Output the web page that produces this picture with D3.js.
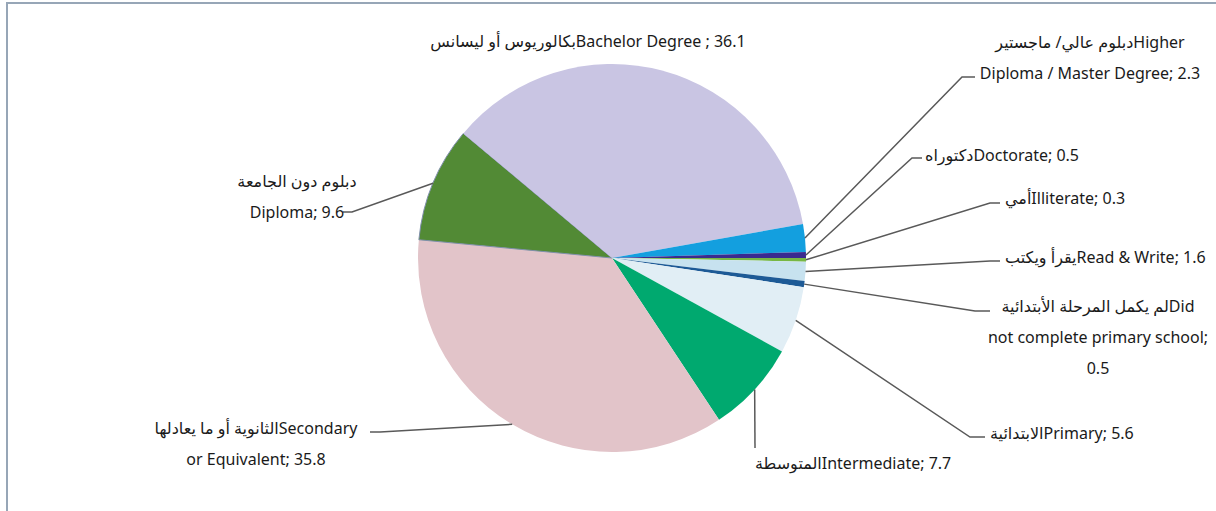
<!DOCTYPE html>
<html>
<head>
<meta charset="utf-8">
<script src="https://cdn.jsdelivr.net/npm/d3@7"></script>
<style>
  body { margin: 0; background: #fff; }
  svg { display: block; }
  text { font-family: "Noto Sans", "DejaVu Sans", sans-serif; font-size: 16px; fill: #1a1a1a; }
</style>
</head>
<body>
<div id="chart"></div>
<script>
// education levels, in pie order (clockwise from 3 o'clock)
const categories = [
  "Illiterate", "Read & Write", "Did not complete primary school", "Primary",
  "Intermediate", "Secondary or Equivalent", "Diploma", "Bachelor Degree",
  "Higher Diploma / Master Degree", "Doctorate"
];
const values = [0.3, 1.6, 0.5, 5.6, 7.7, 35.8, 9.6, 36.1, 2.3, 0.5];
const labelLines = [
  ["أميIlliterate; 0.3"],
  ["يقرأ ويكتبRead & Write; 1.6"],
  ["لم يكمل المرحلة الأبتدائيةDid", "not complete primary school;", "0.5"],
  ["الابتدائيةPrimary; 5.6"],
  ["المتوسطةIntermediate; 7.7"],
  ["الثانوية أو ما يعادلهاSecondary", "or Equivalent; 35.8"],
  ["دبلوم دون الجامعة", "Diploma; 9.6"],
  ["بكالوريوس أو ليسانسBachelor Degree ; 36.1"],
  ["دبلوم عالي/ ماجستيرHigher", "Diploma / Master Degree; 2.3"],
  ["دكتوراهDoctorate; 0.5"]
];
const colors = ["#77b744", "#c7e2ef", "#1d5a96", "#e1eef5", "#00a96f",
                "#e2c4c9", "#528a35", "#c9c5e3", "#139fdf", "#3a2a8f"];
const edgeColors = [null, null, null, null, null, null, "#7f8fab", null, null, null];

// label placement: text anchor point, first baseline, and leader elbow / end
const labelLayout = [
  {x: 1005, y: 204, anchor: "start", elbow: [990, 203], end: [1000, 203]},
  {x: 1005, y: 263, anchor: "start", elbow: [990, 261], end: [1000, 261]},
  {x: 1098, y: 312, anchor: "middle", elbow: [975, 311], end: [990, 311]},
  {x: 990, y: 439, anchor: "start", elbow: [970, 437], end: [985, 437]},
  {x: 755, y: 469, anchor: "start", elbow: [755, 448], end: null},
  {x: 256, y: 434, anchor: "middle", elbow: [380, 432], end: [370, 432]},
  {x: 297, y: 187, anchor: "middle", elbow: [352, 212], end: [343, 212]},
  {x: 588, y: 47, anchor: "middle", elbow: null, end: null},
  {x: 1090, y: 48, anchor: "middle", elbow: [962, 77], end: [975, 77]},
  {x: 925, y: 161, anchor: "start", elbow: [912, 158], end: [922, 158]}
];

const width = 1216, height = 511;
const cx = 612, cy = 258, radius = 194;
const lineGap = 31;

const svg = d3.select("#chart").append("svg")
  .attr("width", width)
  .attr("height", height);

// chart frame (only the top and left edges fall inside the window)
svg.append("rect")
  .attr("x", 7).attr("y", 3)
  .attr("width", width + 20).attr("height", height + 20)
  .attr("fill", "none")
  .attr("stroke", "#97a6b7")
  .attr("stroke-width", 2);

const pie = d3.pie()
  .sort(null)
  .startAngle(Math.PI / 2)
  .endAngle(Math.PI / 2 + 2 * Math.PI);

const arcs = pie(values);
const arc = d3.arc().innerRadius(0).outerRadius(radius);

const g = svg.append("g").attr("transform", `translate(${cx},${cy})`);

g.selectAll("path.slice")
  .data(arcs)
  .enter().append("path")
  .attr("class", "slice")
  .attr("d", arc)
  .attr("fill", (d, i) => colors[i])
  .attr("stroke", (d, i) => edgeColors[i] || "none")
  .attr("stroke-width", 1);

// leader lines
const leaders = svg.append("g")
  .attr("fill", "none")
  .attr("stroke", "#595959")
  .attr("stroke-width", 1.5);

arcs.forEach((d, i) => {
  const lay = labelLayout[i];
  if (!lay.elbow) return;
  const mid = (d.startAngle + d.endAngle) / 2;
  const p0 = [cx + radius * Math.sin(mid), cy - radius * Math.cos(mid)];
  const pts = [p0, lay.elbow];
  if (lay.end) pts.push(lay.end);
  leaders.append("path").attr("d", d3.line()(pts));
});

// labels
const labels = svg.append("g");
labelLines.forEach((lines, i) => {
  const lay = labelLayout[i];
  const t = labels.append("text")
    .attr("text-anchor", lay.anchor)
    .attr("direction", "ltr");
  lines.forEach((s, k) => {
    t.append("tspan")
      .attr("x", lay.x)
      .attr("y", lay.y + k * lineGap)
      .text(s);
  });
});
</script>
</body>
</html>
